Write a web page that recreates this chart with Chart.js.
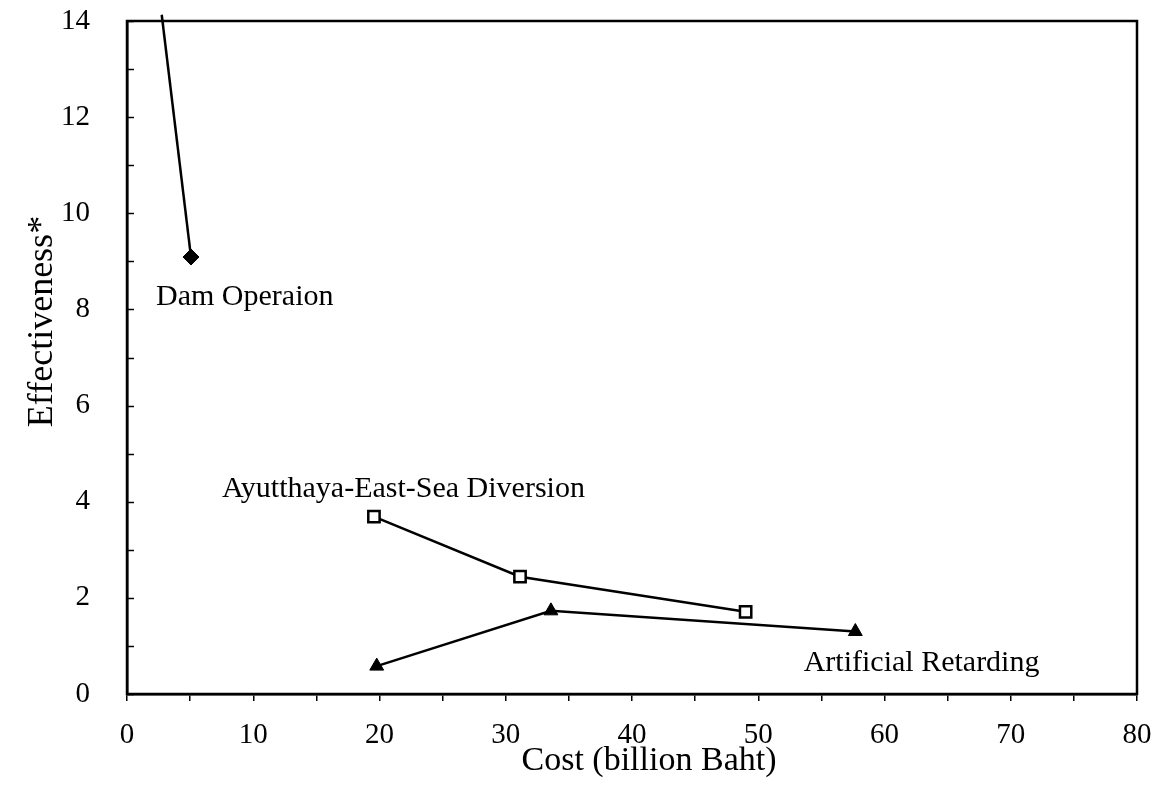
<!DOCTYPE html>
<html>
<head>
<meta charset="utf-8">
<script src="https://cdn.jsdelivr.net/npm/chart.js@4/dist/chart.umd.min.js"></script>
<style>
html,body{margin:0;padding:0;background:#fff;}
#wrap{width:1157px;height:789px;}
</style>
</head>
<body>
<div id="wrap"><canvas id="c" width="1157" height="789"></canvas></div>
<script>
// ---- data ----
const damCost = [2.75, 5.07];
const damEff = [14.13, 9.09];
const diversionCost = [19.56, 31.13, 49.0];
const diversionEff = [3.69, 2.44, 1.71];
const retardingCost = [19.78, 33.58, 57.69];
const retardingEff = [0.58, 1.73, 1.30];

const seriesNames = ['Dam Operaion', 'Ayutthaya-East-Sea Diversion', 'Artificial Retarding'];
const seriesLabelCost = [2.3, 7.52, 53.6];
const seriesLabelEff = [8.09, 4.10, 0.48];

const xTitle = 'Cost (billion Baht)';
const yTitle = 'Effectiveness*';
const xMin = 0, xMax = 80, xTickStep = 5, xLabelStep = 10;
const yMin = 0, yMax = 14, yTickStep = 1, yLabelStep = 2;

function pts(xs, ys) { return xs.map((x, i) => ({ x: x, y: ys[i] })); }

const serif = "'Liberation Serif', 'Times New Roman', serif";

const framePlugin = {
  id: 'frame',
  afterDraw(chart) {
    const ctx = chart.ctx;
    const a = chart.chartArea;
    const ys = chart.scales.y;
    const xs = chart.scales.x;
    ctx.save();
    ctx.strokeStyle = '#000';
    ctx.lineWidth = 2.5;
    ctx.strokeRect(a.left, a.top, a.right - a.left, a.bottom - a.top);
    // inward y ticks
    ctx.lineWidth = 1.5;
    for (let v = yMin; v <= yMax; v += yTickStep) {
      const py = Math.round(ys.getPixelForValue(v)) + 0.5;
      ctx.beginPath();
      ctx.moveTo(a.left, py);
      ctx.lineTo(a.left + 7, py);
      ctx.stroke();
    }
    // series labels
    ctx.fillStyle = '#000';
    ctx.font = '30px ' + serif;
    ctx.textAlign = 'left';
    ctx.textBaseline = 'alphabetic';
    seriesNames.forEach((name, i) => {
      ctx.fillText(name, xs.getPixelForValue(seriesLabelCost[i]), ys.getPixelForValue(seriesLabelEff[i]));
    });
    ctx.restore();
  }
};

function noPad(s) {
  s.paddingTop = 0; s.paddingBottom = 0; s.paddingLeft = 0; s.paddingRight = 0;
}

new Chart(document.getElementById('c'), {
  type: 'scatter',
  data: {
    datasets: [
      {
        label: seriesNames[0],
        data: pts(damCost, damEff),
        showLine: true,
        borderColor: '#000',
        backgroundColor: '#000',
        borderWidth: 2.5,
        pointStyle: 'rectRot',
        pointRadius: [0, 8],
        pointBorderWidth: 1,
        clip: { left: 0, top: 8, right: 0, bottom: 0 }
      },
      {
        label: seriesNames[1],
        data: pts(diversionCost, diversionEff),
        showLine: true,
        borderColor: '#000',
        backgroundColor: '#fff',
        borderWidth: 2.5,
        pointStyle: 'rect',
        pointRadius: 8,
        pointBorderWidth: 2.5
      },
      {
        label: seriesNames[2],
        data: pts(retardingCost, retardingEff),
        showLine: true,
        borderColor: '#000',
        backgroundColor: '#000',
        borderWidth: 2.5,
        pointStyle: 'triangle',
        pointRadius: 8,
        pointBorderWidth: 1
      }
    ]
  },
  options: {
    responsive: false,
    animation: false,
    devicePixelRatio: 1,
    layout: { autoPadding: false, padding: { left: 0, top: 21, right: 20, bottom: 0 } },
    plugins: { legend: { display: false }, tooltip: { enabled: false } },
    scales: {
      x: {
        type: 'linear',
        position: 'bottom',
        min: xMin, max: xMax,
        ticks: {
          stepSize: xTickStep,
          autoSkip: false,
          maxRotation: 0,
          color: '#000',
          padding: 17,
          font: { family: serif, size: 29 },
          callback: (v) => (v % xLabelStep === 0 ? String(v) : '')
        },
        grid: { drawOnChartArea: false, drawTicks: true, tickLength: 7, color: '#000', lineWidth: 1.5 },
        border: { display: true, color: '#000', width: 2.5 },
        title: {
          display: true,
          text: '\u2002\u2002' + xTitle,
          color: '#000',
          font: { family: serif, size: 34 },
          padding: { top: 0, bottom: 8 }
        },
        afterFit: (s) => { s.height = 95; noPad(s); }
      },
      y: {
        type: 'linear',
        position: 'left',
        min: yMin, max: yMax,
        ticks: {
          stepSize: yTickStep,
          autoSkip: false,
          color: '#000',
          padding: 37,
          font: { family: serif, size: 29 },
          callback: (v) => (v % yLabelStep === 0 ? String(v) : '')
        },
        grid: { drawOnChartArea: false, drawTicks: false },
        border: { display: true, color: '#000', width: 2.5 },
        title: {
          display: true,
          text: '\u2002\u2002\u2002\u2002' + yTitle,
          color: '#000',
          font: { family: serif, size: 36 },
          padding: { top: 21, bottom: 0 }
        },
        afterFit: (s) => { s.width = 127; noPad(s); }
      }
    }
  },
  plugins: [framePlugin]
});
</script>
</body>
</html>
